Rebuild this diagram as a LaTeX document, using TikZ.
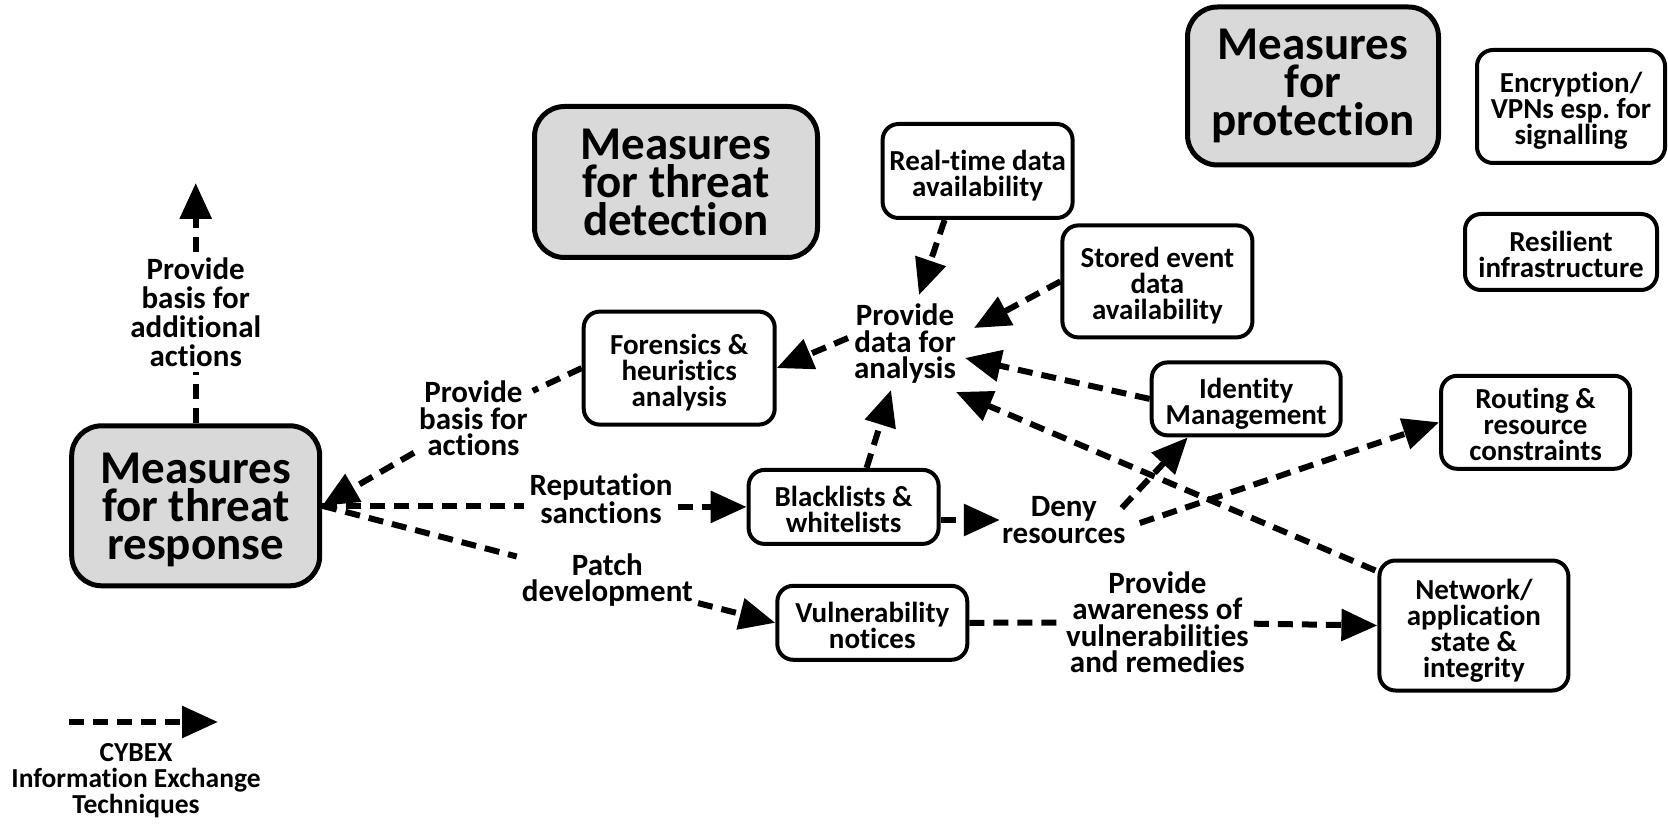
\documentclass[tikz,border=0pt]{standalone}
\usepackage{fontspec}
\setmainfont{Carlito}[Ligatures={NoCommon,NoContextual}]
\usetikzlibrary{arrows.meta,calc}
\definecolor{boxgray}{HTML}{D9D9D9}
\frenchspacing
% fixed first-line height so every box sets its text at the same depth
\newcommand{\boxstrut}{\rule{0pt}{33pt}}
\begin{document}
\begin{tikzpicture}[x=1pt,y=-1pt,
  bigbox/.style={draw, line width=5pt, fill=boxgray, rounded corners=30pt, inner sep=0pt, align=center,
    font=\fontsize{47}{38}\selectfont\bfseries},
  smallbox/.style={draw, line width=4pt, fill=white, rounded corners=16pt, inner sep=0pt, align=center,
    font=\fontsize{29}{26}\selectfont\bfseries,
    execute at end node={\rule[-8pt]{0pt}{8pt}}},
  lbl/.style={inner sep=5pt, align=center, font=\fontsize{31}{26.5}\selectfont\bfseries},
  cx/.style={line width=6pt, dash pattern=on 15pt off 9pt},
  cxa/.style={cx, -{Triangle[length=36pt,width=31pt]}},
]
\fill[white] (0,0) rectangle (1668,826);
\useasboundingbox (0,0) rectangle (1668,826);

% main categories
\node[bigbox, minimum width=248pt, minimum height=160pt] (resp) at (195.7,505.8) {\rule{0pt}{38pt}Measures\\for threat\\response};
\node[bigbox, minimum width=283pt, minimum height=151pt] (det) at (676,182) {Measures\\for threat\\detection};
\node[bigbox, minimum width=251pt, minimum height=158pt] (prot) at (1313,86) {Measures\\for\\protection};

% individual measures
\node[smallbox, minimum width=190pt, minimum height=94pt] (rtd) at (977.6,171) {\boxstrut Real-time data\\availability};
\node[smallbox, minimum width=190pt, minimum height=112pt] (sed) at (1157.4,281.4) {\boxstrut Stored event\\data\\availability};
\node[smallbox, minimum width=191pt, minimum height=113pt] (for) at (679.2,368.1) {\boxstrut Forensics \&\\heuristics\\analysis};
\node[smallbox, minimum width=189pt, minimum height=73pt] (idm) at (1246.2,398.9) {\boxstrut Identity\\Management};
\node[smallbox, minimum width=190pt, minimum height=74pt] (bl) at (843.6,506.9) {\boxstrut Blacklists \&\\whitelists};
\node[smallbox, minimum width=190pt, minimum height=74pt] (vn) at (872.3,622.8) {\boxstrut Vulnerability\\notices};
\node[smallbox, minimum width=189pt, minimum height=92pt] (rr) at (1535.6,422.3) {\boxstrut Routing \&\\resource\\constraints};
\node[smallbox, minimum width=189pt, minimum height=130pt] (net) at (1473.9,625.5) {\boxstrut Network/\\application\\state \&\\integrity};
\node[smallbox, minimum width=188pt, minimum height=113pt] (enc) at (1571,106.5) {\boxstrut Encryption/\\VPNs esp. for\\signalling};
\node[smallbox, minimum width=192pt, minimum height=76pt] (res) at (1561,252) {\boxstrut Resilient\\infrastructure};

% exchange labels
\node[lbl, font=\fontsize{31}{29}\selectfont\bfseries] (pbaa) at (195.7,312) {Provide\\basis for\\additional\\actions};
\node[lbl] (pba) at (473.4,418.5) {Provide\\basis for\\actions};
\node[lbl] (rep) at (601,499) {Reputation\\sanctions};
\node[lbl] (patch) at (607.4,580) {Patch\\development};
\node[lbl] (pda) at (905,344) {Provide\\data for\\analysis};
\node[lbl, inner sep=2pt] (deny) at (1063.8,520) {Deny\\resources};
\node[lbl] (paw) at (1157.4,622.3) {Provide\\awareness of\\vulnerabilities\\and remedies};

\coordinate (up) at (195.7,183);

% exchanges
\draw[cx] (resp.north) -- (pbaa);
\draw[cxa] (pbaa) -- (up);

\draw[cx] (for.west) -- (pba);
\draw[cxa] (pba) -- (resp.east);

\draw[cx] (resp.east) -- (resp.east -| rep.west);
\draw[cxa] (rep.east |- bl.west) -- (bl.west);

\draw[cx] (resp.east) -- (patch);
\draw[cxa] (patch) -- (vn.west);

\draw[cxa] ($(rtd.south)+(-33,0)$) -- ($(pda)+(14,-49)$);
\draw[cxa] (sed.west) -- ($(pda)+(69,-16)$);
\draw[cxa] (idm.west) -- ($(pda)+(60,14)$);
\draw[cxa] ($(net.north west)+(-2,12)$) -- ($(pda)+(51,48)$);
\draw[cxa] ($(bl.north)+(23,0)$) -- ($(pda)+(-14,46)$);
\draw[cxa] ($(pda)+(-57,-6)$) -- (for.east);

\draw[cxa] (bl.east |- deny.west) -- (deny.west);
\draw[cxa] ($(deny)+(58,-12)$) -- ($(idm.south west)+(38,0)$);
\draw[cxa] ($(deny)+(76,3)$) -- (rr.west);

\draw[cx] (vn.east) -- (paw);
\draw[cxa] (paw) -- (net.west);

% legend
\coordinate (lgA) at (69,722);
\coordinate (lgB) at (218,722);
\draw[cxa] (lgA) -- (lgB);
\node[align=center, font=\fontsize{27.5}{26}\selectfont\bfseries] (lgtxt) at (136,781) {CYBEX\\Information Exchange\\Techniques};
\end{tikzpicture}
\end{document}
